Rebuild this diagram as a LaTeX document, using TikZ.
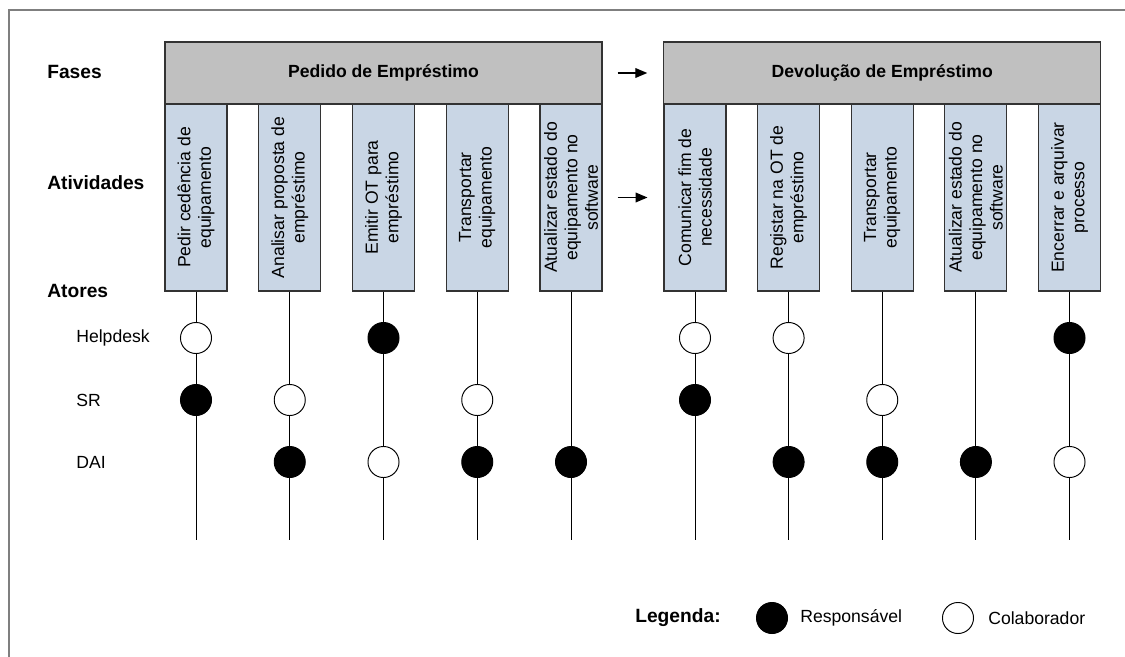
\documentclass[tikz,border=0pt]{standalone}
\usepackage{fontspec}
\setmainfont{Liberation Sans}
\usetikzlibrary{shapes,arrows}
\definecolor{fasegray}{HTML}{C0C0C0}
\definecolor{ativblue}{HTML}{C9D6E5}
\definecolor{moldura}{HTML}{7F7F7F}
\tikzstyle{fase} = [draw=black!80, fill=fasegray, line width=0.7pt, minimum width=273.1pt, minimum height=38.75pt, font=\fontsize{11}{13}\selectfont\bfseries]
\tikzstyle{ativ} = [draw=black!80, fill=ativblue, line width=0.7pt, rotate=90, minimum width=116.9pt, minimum height=38.75pt, align=center, inner sep=1pt, font=\fontsize{11}{12.8}\selectfont]
\tikzstyle{titulo} = [anchor=west, inner sep=0pt, font=\fontsize{12}{14}\selectfont\bfseries]
\tikzstyle{ator} = [anchor=west, inner sep=0pt, font=\fontsize{11}{13}\selectfont]
\tikzstyle{resp} = [circle, draw, fill=black, line width=0.6pt, minimum size=19.4pt, inner sep=0pt]
\tikzstyle{colab} = [circle, draw, fill=white, line width=0.6pt, minimum size=19.4pt, inner sep=0pt]
\tikzstyle{line} = [draw, -triangle 45, line width=0.7pt]
\tikzstyle{vida} = [draw, line width=0.6pt]

\begin{document}
\begin{tikzpicture}[x=0.625pt, y=-0.625pt]
    \useasboundingbox (0,0) rectangle (1125,657);
    \draw[moldura, line width=1.2pt] (9,670) -- (9,10) -- (1130,10);

    % titulos das linhas
    \node[titulo] (tfases) at (47,72) {Fases};
    \node[titulo] (tativ) at (47,183) {Atividades};
    \node[titulo] (tatores) at (47,291) {Atores};
    \node[ator] (helpdesk) at (76,338) {Helpdesk};
    \node[ator] (sr) at (76,400) {SR};
    \node[ator] (dai) at (76,462) {DAI};

    % fases
    \node[fase] (pedido) at (383.5,73) {Pedido de Empréstimo};
    \node[fase] (devolucao) at (882.25,73) {Devolução de Empréstimo};

    % atividades
    \node[ativ] (a1) at (196,197.5) {Pedir cedência de\\equipamento};
    \node[ativ] (a2) at (289.75,197.5) {Analisar proposta de\\empréstimo};
    \node[ativ] (a3) at (383.5,197.5) {Emitir OT para\\empréstimo};
    \node[ativ] (a4) at (477.25,197.5) {Transportar\\equipamento};
    \node[ativ] (a5) at (571,197.5) {Atualizar estado do\\equipamento no\\software};
    \node[ativ] (a6) at (695,197.5) {Comunicar fim de\\necessidade};
    \node[ativ] (a7) at (788.6,197.5) {Registar na OT de\\empréstimo};
    \node[ativ] (a8) at (882.25,197.5) {Transportar\\equipamento};
    \node[ativ] (a9) at (975.9,197.5) {Atualizar estado do\\equipamento no\\software};
    \node[ativ] (a10) at (1069.5,197.5) {Encerrar e arquivar\\processo};

    \path[line, shorten <=9.4pt, shorten >=10pt] (pedido) -- (devolucao);
    \path[line, shorten <=9.4pt, shorten >=10pt] (a5) -- (a6);

    % linhas de vida
    \coordinate (f1) at (196,540);
    \coordinate (f2) at (289.75,540);
    \coordinate (f3) at (383.5,540);
    \coordinate (f4) at (477.25,540);
    \coordinate (f5) at (571,540);
    \coordinate (f6) at (695,540);
    \coordinate (f7) at (788.6,540);
    \coordinate (f8) at (882.25,540);
    \coordinate (f9) at (975.9,540);
    \coordinate (f10) at (1069.5,540);
    \path[vida] (a1) -- (f1);
    \path[vida] (a2) -- (f2);
    \path[vida] (a3) -- (f3);
    \path[vida] (a4) -- (f4);
    \path[vida] (a5) -- (f5);
    \path[vida] (a6) -- (f6);
    \path[vida] (a7) -- (f7);
    \path[vida] (a8) -- (f8);
    \path[vida] (a9) -- (f9);
    \path[vida] (a10) -- (f10);

    % responsavel / colaborador
    \node[colab] (c1h) at (196,338) {};
    \node[resp] (c1s) at (196,400) {};
    \node[colab] (c2s) at (289.75,400) {};
    \node[resp] (c2d) at (289.75,462) {};
    \node[resp] (c3h) at (383.5,338) {};
    \node[colab] (c3d) at (383.5,462) {};
    \node[colab] (c4s) at (477.25,400) {};
    \node[resp] (c4d) at (477.25,462) {};
    \node[resp] (c5d) at (571,462) {};
    \node[colab] (c6h) at (695,338) {};
    \node[resp] (c6s) at (695,400) {};
    \node[colab] (c7h) at (788.6,338) {};
    \node[resp] (c7d) at (788.6,462) {};
    \node[colab] (c8s) at (882.25,400) {};
    \node[resp] (c8d) at (882.25,462) {};
    \node[resp] (c9d) at (975.9,462) {};
    \node[resp] (c10h) at (1069.5,338) {};
    \node[colab] (c10d) at (1069.5,462) {};

    % legenda
    \node[titulo] (legenda) at (635,618) {Legenda:};
    \node[resp] (lresp) at (772,618) {};
    \node[ator] (tresp) at (800,618) {Responsável};
    \node[colab] (lcolab) at (958,618) {};
    \node[ator] (tcolab) at (988,618) {Colaborador};
\end{tikzpicture}
\end{document}
